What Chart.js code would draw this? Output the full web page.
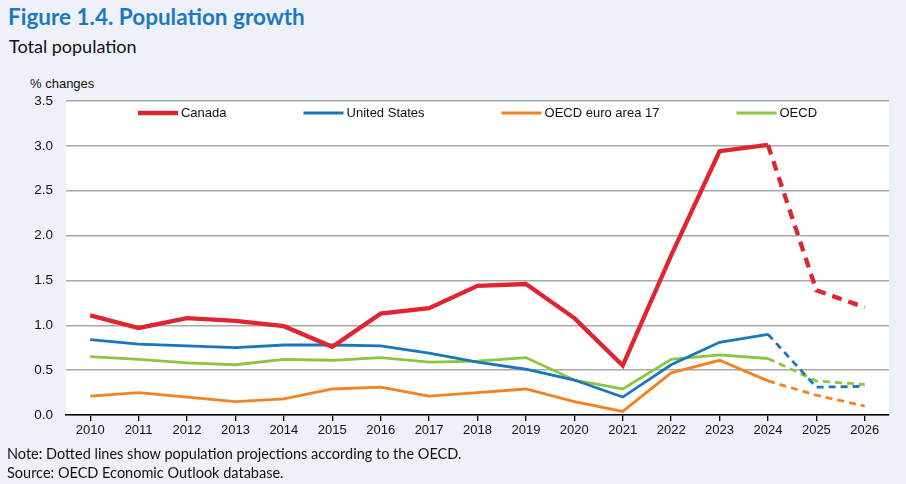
<!DOCTYPE html>
<html>
<head>
    <meta charset="utf-8">
    <title>Figure 1.4. Population growth</title>
    <style>
        body { margin: 0; background: #eef2f8; }
        .wrap { position: relative; width: 906px; height: 484px; overflow: hidden; }
        .title { position: absolute; left: 8px; top: 3px; font: bold 22.5px Lato, sans-serif; color: #1d78c4; }
        .subtitle { position: absolute; left: 9px; top: 35px; font: 18px Lato, sans-serif; color: #111; }
        .unit { position: absolute; left: 30px; top: 76px; font: 13px "Liberation Sans", Arial, sans-serif; color: #111; }
        .note { position: absolute; left: 7px; font: 14.5px Lato, sans-serif; color: #111; }
        canvas { position: absolute; left: 0; top: 0; }
    </style>
</head>
<body>
<div class="wrap">
    <div class="title">Figure 1.4. Population growth</div>
    <div class="subtitle">Total population</div>
    <div class="unit">% changes</div>
    <canvas id="chart" width="906" height="484"></canvas>
    <div class="note" style="top:445px">Note: Dotted lines show population projections according to the OECD.</div>
    <div class="note" style="top:464px">Source: OECD Economic Outlook database.</div>
</div>

<script src="https://cdn.jsdelivr.net/npm/chart.js"></script>
<script>
    // Dados
    var years = ['2010','2011','2012','2013','2014','2015','2016','2017','2018','2019','2020','2021','2022','2023','2024','2025','2026'];
    var canada = [1.11, 0.97, 1.08, 1.05, 0.99, 0.76, 1.13, 1.19, 1.44, 1.46, 1.08, 0.55, 1.78, 2.94, 3.01, 1.39, 1.20];
    var unitedStates = [0.84, 0.79, 0.77, 0.75, 0.78, 0.78, 0.77, 0.69, 0.59, 0.51, 0.39, 0.20, 0.56, 0.81, 0.90, 0.31, 0.32];
    var euroArea17 = [0.21, 0.25, 0.20, 0.15, 0.18, 0.29, 0.31, 0.21, 0.25, 0.29, 0.15, 0.04, 0.47, 0.61, 0.38, 0.22, 0.10];
    var oecd = [0.65, 0.62, 0.58, 0.56, 0.62, 0.61, 0.64, 0.59, 0.60, 0.64, 0.39, 0.29, 0.62, 0.67, 0.63, 0.38, 0.34];
    var firstProjection = 14; // segmentos a partir de 2024 são tracejados

    function dashed(pattern) {
        return function(ctx) { return ctx.p0DataIndex >= firstProjection ? pattern : undefined; };
    }

    // fundo branco da área do gráfico
    var plotBackground = {
        id: 'plotBackground',
        beforeDraw: function(chart) {
            var a = chart.chartArea, c = chart.ctx;
            c.save();
            c.fillStyle = '#ffffff';
            c.fillRect(a.left, a.top, a.right - a.left, a.bottom - a.top);
            c.restore();
        }
    };

    // legenda dentro da área do gráfico
    var insideLegend = {
        id: 'insideLegend',
        afterDatasetsDraw: function(chart) {
            var c = chart.ctx, a = chart.chartArea;
            var lineLen = 40, gapText = 3, gapItem = 77;
            c.save();
            c.font = '13px "Liberation Sans", Arial, sans-serif';
            var sets = chart.data.datasets;
            var total = 0;
            sets.forEach(function(ds, i) {
                total += lineLen + gapText + c.measureText(ds.label).width;
                if (i < sets.length - 1) total += gapItem;
            });
            var x = (a.left + a.right) / 2 - total / 2;
            var y = a.top + 12;
            sets.forEach(function(ds) {
                c.strokeStyle = ds.borderColor;
                c.lineWidth = ds.borderWidth;
                c.beginPath();
                c.moveTo(x, y);
                c.lineTo(x + lineLen, y);
                c.stroke();
                c.fillStyle = '#111';
                c.textBaseline = 'middle';
                c.fillText(ds.label, x + lineLen + gapText, y);
                x += lineLen + gapText + c.measureText(ds.label).width + gapItem;
            });
            c.restore();
        }
    };

    var ctx = document.getElementById('chart').getContext('2d');
    var myChart = new Chart(ctx, {
        type: 'line',
        data: {
            labels: years,
            datasets: [
                { label: 'Canada', data: canada, borderColor: '#de2531', borderWidth: 4.3, segment: { borderDash: dashed([10, 7]) } },
                { label: 'United States', data: unitedStates, borderColor: '#1a76bd', borderWidth: 2.8, segment: { borderDash: dashed([7, 5]) } },
                { label: 'OECD euro area 17', data: euroArea17, borderColor: '#f58125', borderWidth: 2.8, segment: { borderDash: dashed([7, 5]) } },
                { label: 'OECD', data: oecd, borderColor: '#8cc63f', borderWidth: 2.8, segment: { borderDash: dashed([7, 5]) } }
            ]
        },
        options: {
            responsive: false,
            animation: false,
            layout: { padding: { top: 101, right: 17, bottom: 40, left: 0 } },
            elements: { point: { radius: 0 }, line: { tension: 0, borderCapStyle: 'butt', borderJoinStyle: 'miter' } },
            plugins: { legend: { display: false }, tooltip: { enabled: false } },
            scales: {
                x: {
                    offset: true,
                    afterFit: function(scale) { scale.height = 29; },
                    grid: { drawOnChartArea: false, drawTicks: true, tickLength: 6, color: '#000', lineWidth: 1.3 },
                    border: { color: '#000', width: 1.5 },
                    ticks: { color: '#111', padding: 2, maxRotation: 0, autoSkip: false, font: { family: '"Liberation Sans", Arial, sans-serif', size: 13 } }
                },
                y: {
                    min: 0,
                    max: 3.5,
                    afterFit: function(scale) { scale.width = 66; },
                    grid: { color: '#a8a8a8', lineWidth: 1.5, drawTicks: false },
                    border: { display: false },
                    ticks: {
                        stepSize: 0.5,
                        padding: 13,
                        color: '#111',
                        font: { family: '"Liberation Sans", Arial, sans-serif', size: 13.5 },
                        callback: function(v) { return v.toFixed(1); }
                    }
                }
            }
        },
        plugins: [plotBackground, insideLegend]
    });
</script>
</body>
</html>
